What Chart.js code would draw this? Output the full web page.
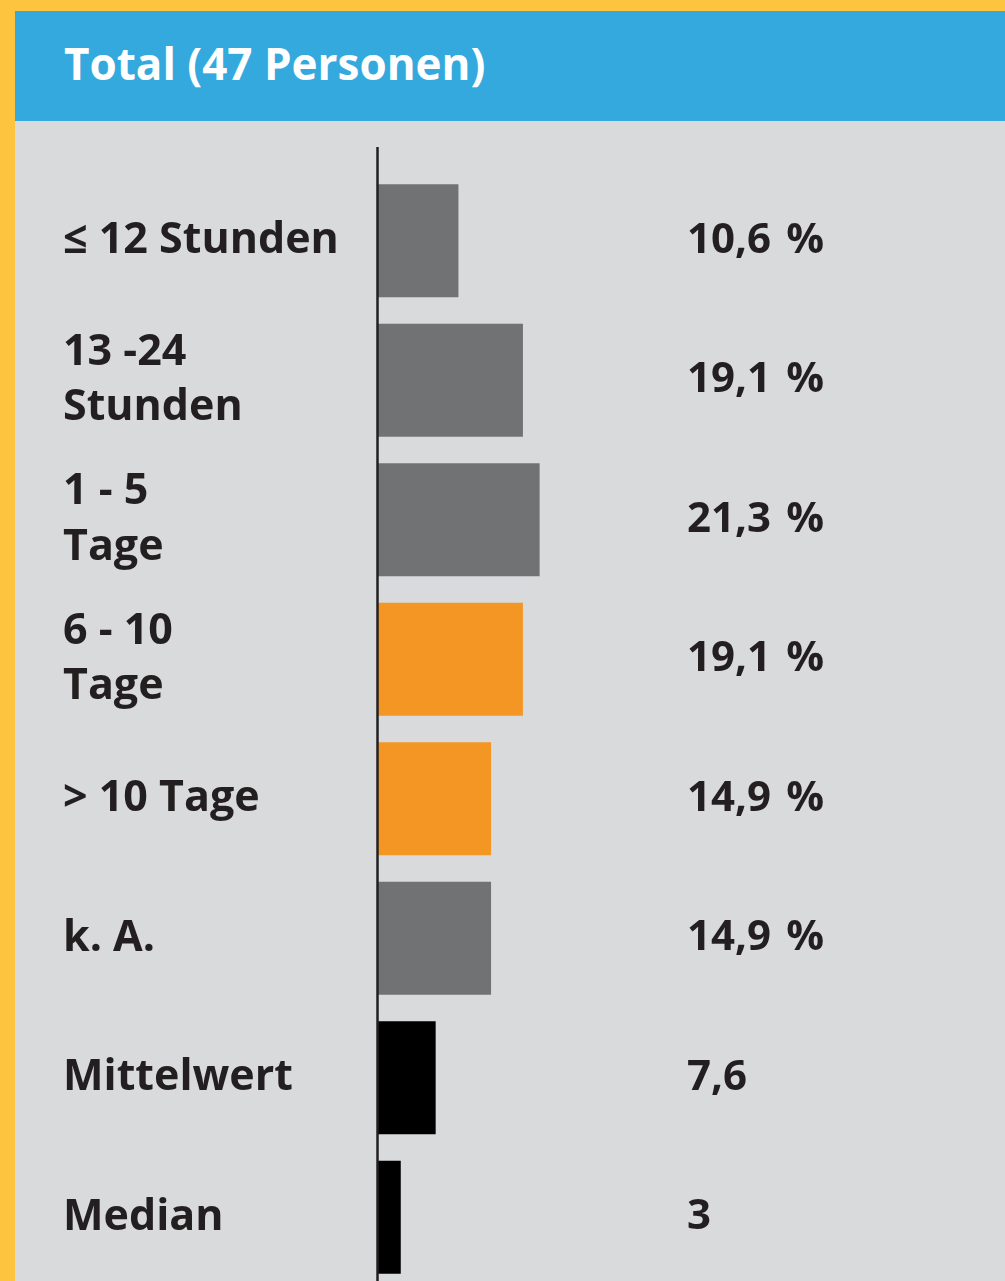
<!DOCTYPE html>
<html>
<head>
<meta charset="utf-8">
<script src="https://cdn.jsdelivr.net/npm/chart.js@4"></script>
<style>
  html, body { margin: 0; padding: 0; }
  body {
    width: 1005px; height: 1281px; overflow: hidden;
    background: #fdc43f; position: relative;
    font-family: "Open Sans", sans-serif;
  }
  #header {
    position: absolute; left: 15px; top: 11px; width: 990px; height: 110px;
    background: #34a9dd; color: #fff;
    font-weight: 700; font-size: 44px; line-height: 104px;
    padding-left: 49px; box-sizing: border-box;
  }
  #panel {
    position: absolute; left: 15px; top: 121px; width: 990px; height: 1197px;
    background: #d9dadc;
  }
</style>
</head>
<body>
<div id="header">Total (47 Personen)</div>
<div id="panel"><canvas id="durationChart" width="990" height="1197"></canvas></div>
<script>
const categories = [
    ['≤ 12 Stunden'],
    ['13 -24', 'Stunden'],
    ['1 - 5', 'Tage'],
    ['6 - 10', 'Tage'],
    ['> 10 Tage'],
    ['k. A.'],
    ['Mittelwert'],
    ['Median']
];
const values = [10.6, 19.1, 21.3, 19.1, 14.9, 14.9, 7.6, 3];
const units = ['%', '%', '%', '%', '%', '%', '', ''];

const barColors = ['#717274', '#717274', '#717274', '#f39624', '#f39624', '#717274', '#000000', '#000000'];
const textColor = '#231f20';

function formatValue(v, unit) {
    const s = String(v).replace('.', ',');
    return unit ? s + ' \u200A' + unit : s;
}

// axis line (starts a bit above the first bar) and value column
const extrasPlugin = {
    id: 'extras',
    afterDatasetsDraw(chart) {
        const ctx = chart.ctx;
        const area = chart.chartArea;
        const x0 = chart.scales.x.getPixelForValue(0);

        ctx.save();
        ctx.strokeStyle = textColor;
        ctx.lineWidth = 2.5;
        ctx.beginPath();
        ctx.moveTo(x0 - 0.5, area.top - 24);
        ctx.lineTo(x0 - 0.5, chart.height);
        ctx.stroke();

        ctx.fillStyle = textColor;
        ctx.font = 'bold 42px "Open Sans"';
        ctx.textAlign = 'left';
        ctx.textBaseline = 'middle';
        const meta = chart.getDatasetMeta(0);
        meta.data.forEach(function(bar, i) {
            ctx.fillText(formatValue(values[i], units[i]), 672, bar.y);
        });
        ctx.restore();
    }
};

const ctx = document.getElementById('durationChart').getContext('2d');
new Chart(ctx, {
    type: 'bar',
    data: {
        labels: categories,
        datasets: [{
            data: values,
            backgroundColor: barColors,
            borderWidth: 0,
            barPercentage: 0.81,
            categoryPercentage: 1
        }]
    },
    options: {
        indexAxis: 'y',
        responsive: false,
        animation: false,
        layout: {
            padding: { left: 48, right: 20, top: 50, bottom: 14 }
        },
        plugins: {
            legend: { display: false },
            tooltip: { enabled: false }
        },
        scales: {
            x: {
                display: false,
                min: 0,
                max: 80
            },
            y: {
                grid: { display: false },
                border: { display: false },
                ticks: {
                    crossAlign: 'far',
                    color: textColor,
                    font: { family: 'Open Sans', weight: 'bold', size: 43, lineHeight: 1.3 }
                },
                afterFit(scale) {
                    scale.width = 315;
                }
            }
        }
    },
    plugins: [extrasPlugin]
});
</script>
</body>
</html>
